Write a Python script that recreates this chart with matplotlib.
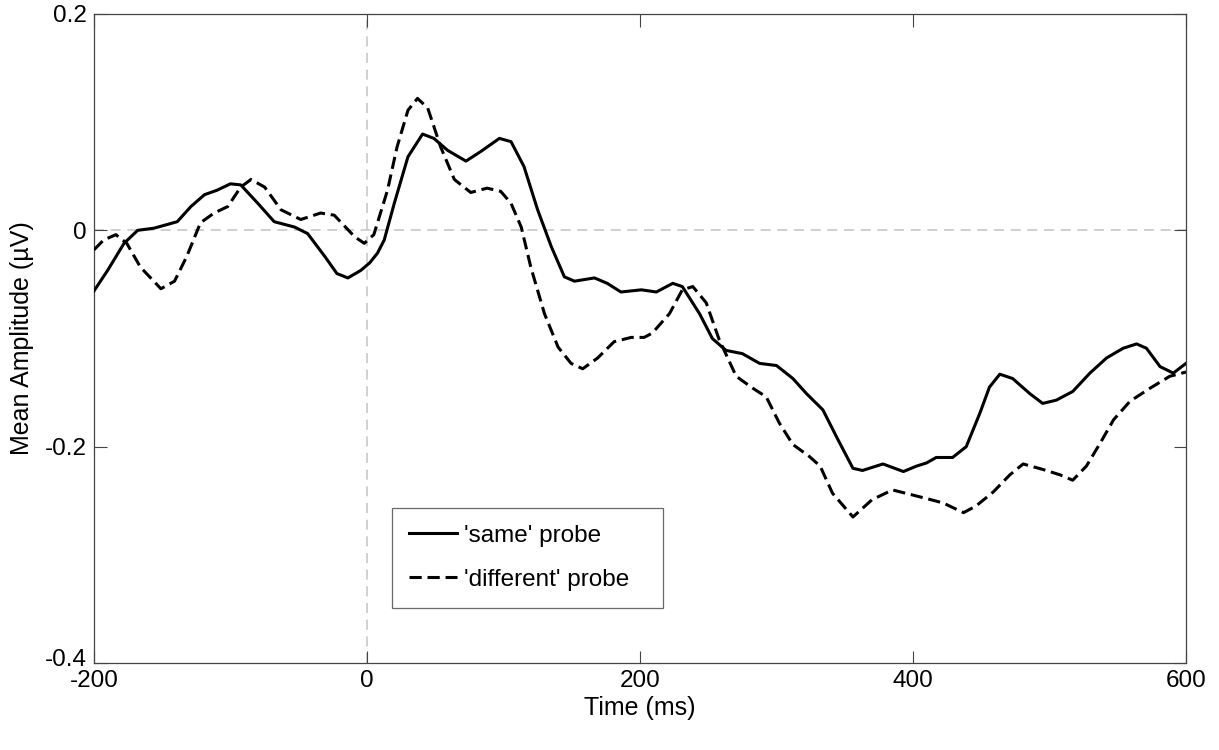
import matplotlib
matplotlib.use("Agg")
import matplotlib.pyplot as plt
import matplotlib.transforms as mtransforms

plt.rcParams['font.family'] = ['Liberation Sans', 'DejaVu Sans']

# 'same' probe (solid)
same_t = [-200, -190, -178, -168, -156, -139, -129, -119, -110, -100, -92.5, -80, -68, -53, -43.5,
          -31, -22, -14, -4.5, 2, 7.7, 12.6, 20, 30, 40.7, 49, 59, 72.5, 83.5, 97, 105.5, 115, 125,
          135, 144.6, 152, 166.6, 176, 186, 201, 212, 224, 231, 243.6, 253, 263, 275, 287.6, 300,
          312, 322, 334, 344, 356, 363, 378, 393, 402.5, 410, 417, 429, 439, 449, 456, 463.6, 473,
          485.6, 495, 505, 517, 529.6, 541.8, 554, 563.8, 571, 581, 590.7, 600]
same_v = [-0.056, -0.037, -0.012, 0.000, 0.002, 0.008, 0.022, 0.033, 0.037, 0.043, 0.042, 0.025,
          0.008, 0.003, -0.003, -0.024, -0.040, -0.044, -0.037, -0.030, -0.021, -0.009, 0.025,
          0.068, 0.089, 0.085, 0.074, 0.064, 0.073, 0.085, 0.082, 0.059, 0.019, -0.015, -0.043,
          -0.047, -0.044, -0.049, -0.057, -0.055, -0.057, -0.049, -0.052, -0.077, -0.100, -0.111,
          -0.114, -0.123, -0.125, -0.137, -0.151, -0.166, -0.191, -0.220, -0.222, -0.216, -0.223,
          -0.218, -0.215, -0.210, -0.210, -0.200, -0.169, -0.145, -0.133, -0.137, -0.151, -0.160,
          -0.157, -0.149, -0.132, -0.118, -0.109, -0.105, -0.109, -0.126, -0.132, -0.123]

# 'different' probe (dashed)
diff_t = [-200, -193, -184, -176, -166, -151, -141, -132, -122, -112, -102, -92.5, -85, -75, -63,
          -48.5, -34, -24, -9, -2, 5, 15, 22, 30, 37, 44.5, 54, 64, 76, 88, 98, 105.5, 113, 120,
          130, 140, 149.5, 158, 169, 181, 193.5, 203, 209, 221.6, 231, 238.7, 248.5, 258, 270.5,
          282.7, 292.5, 302, 312, 324, 332, 341, 356, 370, 385, 397.6, 410, 422, 437, 446, 458.7,
          471, 480.7, 495, 507.6, 517, 527, 537, 547, 559, 573.6, 588, 600]
diff_v = [-0.018, -0.009, -0.004, -0.012, -0.034, -0.054, -0.047, -0.024, 0.007, 0.016, 0.022,
          0.040, 0.047, 0.040, 0.019, 0.010, 0.016, 0.014, -0.006, -0.012, -0.004, 0.037, 0.077,
          0.111, 0.122, 0.113, 0.077, 0.047, 0.035, 0.039, 0.036, 0.025, 0.003, -0.034, -0.077,
          -0.108, -0.123, -0.128, -0.118, -0.103, -0.099, -0.099, -0.095, -0.077, -0.055, -0.052,
          -0.067, -0.101, -0.135, -0.146, -0.154, -0.178, -0.198, -0.209, -0.218, -0.243, -0.265,
          -0.249, -0.240, -0.244, -0.248, -0.252, -0.261, -0.255, -0.242, -0.226, -0.216, -0.221,
          -0.226, -0.231, -0.218, -0.197, -0.175, -0.158, -0.146, -0.135, -0.131]

x_ticks = [-200, 0, 200, 400, 600]
y_ticks = [-0.4, -0.2, 0, 0.2]
x_labels = ['-200', '0', '200', '400', '600']
y_labels = ['-0.4', '-0.2', '0', '0.2']

fig = plt.figure(figsize=(12.19, 7.5), dpi=100)
ax = fig.add_axes([94/1219, 1 - 663/750, 1092/1219, 649/750])

ax.axhline(0, color='#c8c8c8', lw=1.2, ls=(0, (6, 4)), zorder=1)
ax.axvline(0, color='#c8c8c8', lw=1.2, ls=(0, (6, 4)), zorder=1)

ax.plot(same_t, same_v, color='black', lw=2.2, label="'same' probe", zorder=3,
        solid_joinstyle='round')
ax.plot(diff_t, diff_v, color='black', lw=2.2, ls=(0, (4, 1.9)), label="'different' probe",
        zorder=3, dash_joinstyle='round')

ax.set_xlim(-200, 600)
ax.set_ylim(-0.4, 0.2)
ax.set_xticks(x_ticks)
ax.set_xticklabels(x_labels)
ax.set_yticks(y_ticks)
ax.set_yticklabels(y_labels)
ax.tick_params(direction='in', length=9, width=0.8, top=True, right=True, labelsize=17.5,
               color='#444444')
ax.tick_params(axis='x', pad=5)
ax.tick_params(axis='y', pad=5)
for s in ax.spines.values():
    s.set_color('#444444')
    s.set_linewidth(0.9)

# lift the bottom y label a little so it sits above '-200', as in the reference
ylabs = ax.get_yticklabels()
ylabs[0].set_transform(ylabs[0].get_transform() +
                       mtransforms.ScaledTranslation(0, 6/100, fig.dpi_scale_trans))

ax.set_xlabel('Time (ms)', fontsize=18, labelpad=3)
ax.set_ylabel('Mean Amplitude (\u00b5V)', fontsize=18, labelpad=8)

leg = ax.legend(loc='upper left', bbox_to_anchor=(0.2725, 0.239, 0.249, 0.0), mode='expand',
                fontsize=17.5, frameon=True, fancybox=False, edgecolor='#444444',
                handlelength=2.0, handletextpad=0.3, borderaxespad=0, labelspacing=0.9,
                borderpad=0.7)
leg.get_frame().set_linewidth(0.9)

fig.savefig('out.png', dpi=100)
